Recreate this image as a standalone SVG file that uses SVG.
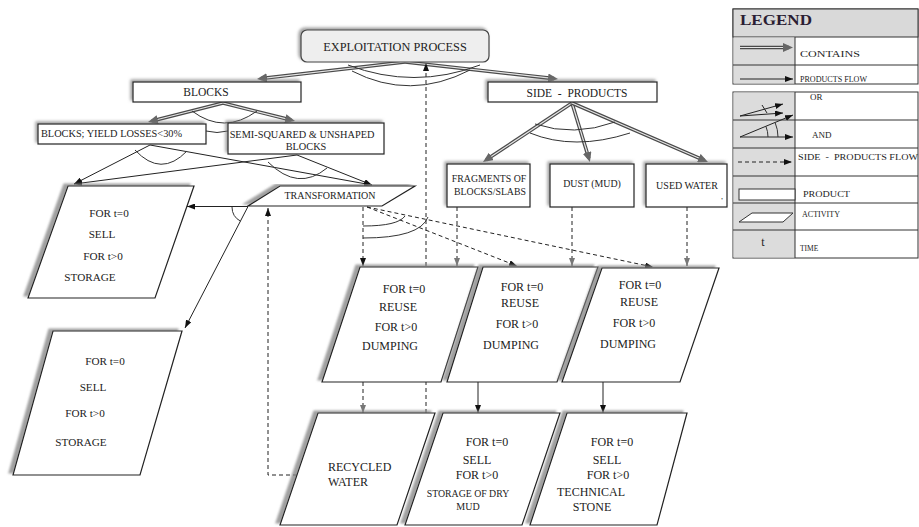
<svg xmlns="http://www.w3.org/2000/svg" width="919" height="527" viewBox="0 0 919 527">
<style>
.t{font-family:"Liberation Serif","Times New Roman",serif;fill:#222;text-anchor:middle}
.ts{font-family:"Liberation Serif","Times New Roman",serif;fill:#222}
.box{fill:#fff;stroke:#222;stroke-width:1.2}
.par{fill:#fff;stroke:#222;stroke-width:1.2}
.dbo{stroke:#4a4a4a;stroke-width:3.6;fill:none}
.dbi{stroke:#e6e6e6;stroke-width:1.2;fill:none}
.pf{stroke:#222;stroke-width:1;fill:none}
.sd{stroke:#222;stroke-width:1;stroke-dasharray:4 3;fill:none}
.arc{stroke:#333;stroke-width:1;fill:none}
.lg{fill:#dcdcdc}
.ln{stroke:#333;stroke-width:1;fill:none}
</style>
<defs>
<marker id="aC" markerUnits="userSpaceOnUse" markerWidth="11" markerHeight="9" refX="6" refY="4.5" orient="auto"><path d="M0,0 L10,4.5 L0,9 z" fill="#666"/></marker>
<marker id="aP" markerUnits="userSpaceOnUse" markerWidth="8" markerHeight="6" refX="8" refY="3" orient="auto"><path d="M0,0 L8,3 L0,6 z" fill="#111"/></marker>
<marker id="aG" markerUnits="userSpaceOnUse" markerWidth="8" markerHeight="6" refX="8" refY="3" orient="auto"><path d="M0,0 L8,3 L0,6 z" fill="#777"/></marker>
<filter id="sh" x="-10%" y="-30%" width="120%" height="160%"><feDropShadow dx="-2" dy="-2" stdDeviation="1.5" flood-color="#777" flood-opacity="0.7"/></filter>
<filter id="shp" x="-10%" y="-10%" width="120%" height="120%"><feDropShadow dx="-4" dy="-2" stdDeviation="1" flood-color="#888" flood-opacity="0.8"/></filter>
</defs>
<rect width="919" height="527" fill="#fff"/>

<g id="connectors">
<line class="dbo" x1="405" y1="62" x2="261" y2="78.5" marker-end="url(#aC)"/>
<line class="dbi" x1="405" y1="62" x2="267" y2="77.9"/>
<line class="dbo" x1="405" y1="62" x2="554" y2="78.6" marker-end="url(#aC)"/>
<line class="dbi" x1="405" y1="62" x2="548.1" y2="77.9"/>
<line class="dbo" x1="223" y1="103" x2="151.9" y2="121" marker-end="url(#aC)"/>
<line class="dbi" x1="223" y1="103" x2="157.7" y2="119.5"/>
<line class="dbo" x1="223" y1="103" x2="291.1" y2="120" marker-end="url(#aC)"/>
<line class="dbi" x1="223" y1="103" x2="285.3" y2="118.6"/>
<line class="dbo" x1="572" y1="103" x2="486.3" y2="159.8" marker-end="url(#aC)"/>
<line class="dbi" x1="572" y1="103" x2="491.3" y2="156.5"/>
<line class="dbo" x1="572" y1="103" x2="588.8" y2="158.2" marker-end="url(#aC)"/>
<line class="dbi" x1="572" y1="103" x2="587.1" y2="152.4"/>
<line class="dbo" x1="572" y1="103" x2="704.3" y2="160.4" marker-end="url(#aC)"/>
<line class="dbi" x1="572" y1="103" x2="698.8" y2="158"/>
<line class="pf" x1="150" y1="145" x2="74" y2="184" marker-end="url(#aP)"/>
<line class="pf" x1="150" y1="145" x2="372" y2="185" marker-end="url(#aP)"/>
<line class="pf" x1="297" y1="155" x2="74" y2="184" marker-end="url(#aP)"/>
<line class="pf" x1="297" y1="155" x2="372" y2="185" marker-end="url(#aP)"/>
<line class="pf" x1="248" y1="206.5" x2="187" y2="206.5" marker-end="url(#aP)"/>
<line class="pf" x1="248" y1="206.5" x2="185" y2="328" marker-end="url(#aP)"/>
<line class="pf" x1="478" y1="382" x2="478" y2="413" marker-end="url(#aP)"/>
<line class="pf" x1="603" y1="382" x2="603" y2="413" marker-end="url(#aP)"/>
<path class="sd" d="M426,413 V63" marker-end="url(#aP)"/>
<path class="sd" d="M297,475 H268 V208" marker-end="url(#aP)"/>
<line class="sd" x1="363" y1="207" x2="363" y2="266" marker-end="url(#aP)"/>
<line class="sd" x1="367" y1="207" x2="517" y2="266" marker-end="url(#aP)"/>
<line class="sd" x1="367" y1="207" x2="653" y2="267" marker-end="url(#aP)"/>
<line class="sd" x1="457" y1="207" x2="457" y2="266" marker-end="url(#aG)"/>
<line class="sd" x1="572" y1="207" x2="572" y2="266" marker-end="url(#aG)"/>
<line class="sd" x1="687" y1="207" x2="687" y2="266" marker-end="url(#aG)"/>
<line class="sd" x1="363" y1="382" x2="363" y2="413" marker-end="url(#aG)"/>
<path class="arc" d="M348,65 Q414,90 480,65"/>
<path class="arc" d="M352,71 Q410,101 470,70"/>
<path class="arc" d="M192,111 Q224,135 257,111"/>
<path class="arc" d="M206,131 Q217,134 228,131"/>
<path class="arc" d="M135,150 Q161,178 187,151"/>
<path class="arc" d="M268,162 Q298,192 327,168"/>
<path class="arc" d="M535,124 Q574,137 615,122"/>
<path class="arc" d="M530,133 Q574,151 630,133"/>
<path class="arc" d="M363,226 Q398,226 405,216"/>
<path class="arc" d="M363,238 Q420,238 428,217"/>
<path class="arc" d="M232,207 A16,16 0 0 0 240.6,221.2"/>
</g>

<g id="exploitation">
<rect x="301" y="30" width="188" height="32" rx="6" fill="#eeeeee" stroke="#444" stroke-width="1.2" filter="url(#sh)"/>
<text class="t" x="395" y="51" font-size="12.3">EXPLOITATION PROCESS</text>
</g>
<g id="blocks">
<rect class="box" x="133" y="82" width="168" height="20" filter="url(#sh)"/>
<text class="t" x="206" y="96" font-size="11.5">BLOCKS</text>
</g>
<g id="side-products">
<rect class="box" x="488" y="82" width="169" height="20" filter="url(#sh)"/>
<text class="t" x="577" y="97" font-size="11.5" xml:space="preserve">SIDE  -  PRODUCTS</text>
</g>
<g id="blocks-yield">
<rect class="box" x="38" y="124" width="168" height="20" filter="url(#sh)"/>
<text class="ts" x="41" y="137" font-size="10.3">BLOCKS; YIELD LOSSES&lt;30%</text>
</g>
<g id="semi-squared">
<rect class="box" x="228" y="123" width="156" height="31" filter="url(#sh)"/>
<text class="t" x="302" y="137.5" font-size="10.3">SEMI-SQUARED &amp; UNSHAPED</text>
<text class="t" x="306" y="150" font-size="10.3">BLOCKS</text>
</g>
<g id="transformation">
<polygon class="par" points="280,186 415,186 382,206 248,206" filter="url(#shp)"/>
<text class="t" x="330" y="199" font-size="10">TRANSFORMATION</text>
</g>
<g id="fragments">
<rect class="box" x="447" y="164" width="83" height="43" filter="url(#sh)"/>
<text class="t" x="489" y="182" font-size="9.8">FRAGMENTS OF</text>
<text class="t" x="490" y="195" font-size="9.8">BLOCKS/SLABS</text>
</g>
<g id="dust">
<rect class="box" x="550" y="164" width="84" height="43" filter="url(#sh)"/>
<text class="t" x="592" y="187" font-size="9.9">DUST (MUD)</text>
</g>
<g id="used-water">
<rect class="box" x="646" y="164" width="81" height="43" filter="url(#sh)"/>
<text class="t" x="687" y="189" font-size="10">USED WATER</text>
<text class="ts" x="721" y="199" font-size="8">,</text>
</g>
<g id="sell-storage-1">
<polygon class="par" points="68,186 194,186 155,298 28,298" filter="url(#shp)"/>
<text class="t" x="109" y="217" font-size="11.2">FOR t=0</text>
<text class="t" x="102" y="238" font-size="11.2">SELL</text>
<text class="t" x="103" y="260" font-size="11.2">FOR t&gt;0</text>
<text class="t" x="90" y="281" font-size="11.2">STORAGE</text>
</g>
<g id="sell-storage-2">
<polygon class="par" points="53,331 182,331 140,475 13,475" filter="url(#shp)"/>
<text class="t" x="105" y="365" font-size="11.2">FOR t=0</text>
<text class="t" x="93" y="391" font-size="11.2">SELL</text>
<text class="t" x="85" y="417" font-size="11.2">FOR t&gt;0</text>
<text class="t" x="81" y="446" font-size="11.2">STORAGE</text>
</g>
<g id="reuse-dumping-1">
<polygon class="par" points="360,267 478,267 441,382 322,382" filter="url(#shp)"/>
<text class="t" x="404" y="293" font-size="12">FOR t=0</text>
<text class="t" x="398" y="311" font-size="12">REUSE</text>
<text class="t" x="396" y="331" font-size="12">FOR t&gt;0</text>
<text class="t" x="390" y="350" font-size="12">DUMPING</text>
</g>
<g id="reuse-dumping-2">
<polygon class="par" points="483,267 598,267 557,382 447,382" filter="url(#shp)"/>
<text class="t" x="522" y="291" font-size="12">FOR t=0</text>
<text class="t" x="520" y="307" font-size="12">REUSE</text>
<text class="t" x="517" y="328" font-size="12">FOR t&gt;0</text>
<text class="t" x="511" y="349" font-size="12">DUMPING</text>
</g>
<g id="reuse-dumping-3">
<polygon class="par" points="602,268 719,268 680,382 562,382" filter="url(#shp)"/>
<text class="t" x="640" y="289" font-size="12">FOR t=0</text>
<text class="t" x="639" y="306" font-size="12">REUSE</text>
<text class="t" x="634" y="327" font-size="12">FOR t&gt;0</text>
<text class="t" x="628" y="348" font-size="12">DUMPING</text>
</g>
<g id="recycled-water">
<polygon class="par" points="318,413 435,413 397,525 280,525" filter="url(#shp)"/>
<text class="ts" x="328" y="471" font-size="12">RECYCLED</text>
<text class="ts" x="328" y="486" font-size="12">WATER</text>
</g>
<g id="dry-mud">
<polygon class="par" points="443,413 560,413 522,525 405,525" filter="url(#shp)"/>
<text class="t" x="487" y="446" font-size="12">FOR t=0</text>
<text class="t" x="477" y="464" font-size="12">SELL</text>
<text class="t" x="477" y="479" font-size="12">FOR t&gt;0</text>
<text class="t" x="468" y="497" font-size="9.8">STORAGE OF DRY</text>
<text class="t" x="468" y="510" font-size="10">MUD</text>
</g>
<g id="technical-stone">
<polygon class="par" points="567,413 687,413 657,525 530,525" filter="url(#shp)"/>
<text class="t" x="612" y="446" font-size="12">FOR t=0</text>
<text class="t" x="607" y="464" font-size="12">SELL</text>
<text class="t" x="608" y="479" font-size="12">FOR t&gt;0</text>
<text class="t" x="591" y="496" font-size="12">TECHNICAL</text>
<text class="t" x="592" y="511" font-size="12">STONE</text>
</g>

<g id="legend">
<rect x="733" y="9" width="185" height="75" fill="#fff" stroke="#333"/>
<rect x="733" y="9" width="185" height="28" fill="#d9d9d9" stroke="#333"/>
<rect class="lg" x="733.5" y="37.5" width="61.5" height="46"/>
<line class="ln" x1="733" y1="65" x2="918" y2="65"/>
<line class="ln" x1="795" y1="37" x2="795" y2="84"/>
<rect x="733" y="92" width="185" height="166" fill="#fff" stroke="#333"/>
<rect class="lg" x="733.5" y="92.5" width="61.5" height="165"/>
<line class="ln" x1="733" y1="120" x2="918" y2="120"/>
<line class="ln" x1="733" y1="148" x2="918" y2="148"/>
<line class="ln" x1="733" y1="176" x2="918" y2="176"/>
<line class="ln" x1="733" y1="203" x2="918" y2="203"/>
<line class="ln" x1="733" y1="230" x2="918" y2="230"/>
<line class="ln" x1="795" y1="92" x2="795" y2="258"/>
<text class="ts" x="740" y="25" font-size="15" font-weight="bold" style="fill:#2b1d33" textLength="72" lengthAdjust="spacingAndGlyphs">LEGEND</text>
<line class="dbo" x1="740" y1="47.5" x2="789" y2="47.5" marker-end="url(#aC)"/>
<line class="dbi" x1="740" y1="47.5" x2="783" y2="47.5"/>
<text class="ts" x="800" y="57" font-size="9" textLength="60" lengthAdjust="spacingAndGlyphs">CONTAINS</text>
<line class="pf" x1="740" y1="79" x2="793" y2="79" marker-end="url(#aP)"/>
<text class="ts" x="800" y="82" font-size="9" textLength="67" lengthAdjust="spacingAndGlyphs">PRODUCTS FLOW</text>
<line class="pf" x1="740" y1="116" x2="783" y2="104" marker-end="url(#aP)"/>
<line class="pf" x1="740" y1="116" x2="783" y2="113" marker-end="url(#aP)"/>
<line class="pf" x1="762" y1="105" x2="767" y2="113"/>
<text class="ts" x="810" y="100" font-size="9">OR</text>
<line class="pf" x1="740" y1="137" x2="793" y2="115" marker-end="url(#aP)"/>
<line class="pf" x1="740" y1="137" x2="793" y2="137" marker-end="url(#aP)"/>
<path class="arc" d="M765.9,126.3 A28,28 0 0 1 768,137"/>
<path class="arc" d="M775.1,122.5 A38,38 0 0 1 778,137"/>
<text class="ts" x="812" y="138" font-size="9">AND</text>
<line class="sd" x1="738" y1="162" x2="792" y2="162" marker-end="url(#aP)"/>
<text class="ts" x="798" y="160" font-size="9" textLength="120" lengthAdjust="spacingAndGlyphs" xml:space="preserve">SIDE  -  PRODUCTS FLOW</text>
<rect x="739" y="189" width="56" height="11" fill="#fff" stroke="#333"/>
<text class="ts" x="803" y="197" font-size="9" textLength="47" lengthAdjust="spacingAndGlyphs">PRODUCT</text>
<polygon points="752,213 793,213 783,222 739,222" fill="#fff" stroke="#333"/>
<text class="ts" x="802" y="217" font-size="8.5" textLength="38" lengthAdjust="spacingAndGlyphs">ACTIVITY</text>
<text class="t" x="763" y="246" font-size="12">t</text>
<text class="ts" x="800" y="251" font-size="7.5">TIME</text>
</g>
</svg>
